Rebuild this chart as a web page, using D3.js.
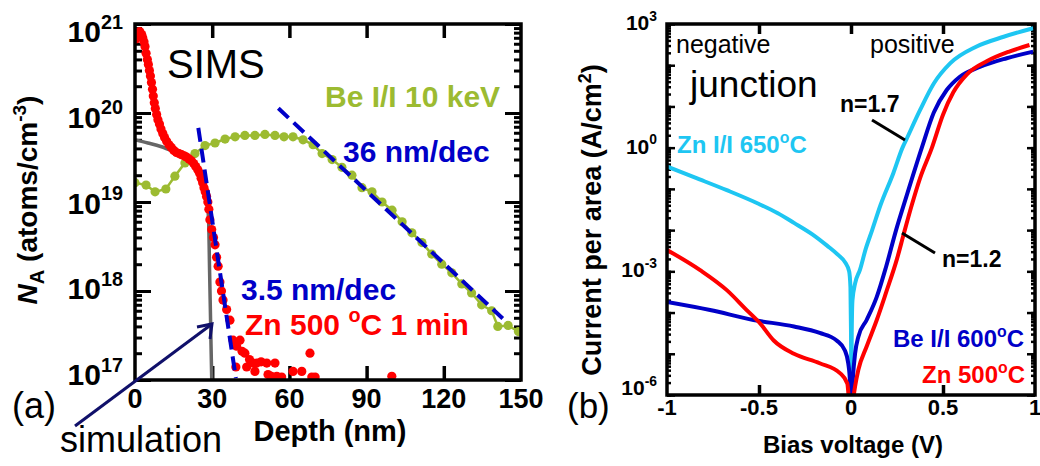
<!DOCTYPE html>
<html>
<head>
<meta charset="utf-8">
<script src="https://cdn.jsdelivr.net/npm/d3@7"></script>
<style>
  body { margin: 0; background: #fff; }
  svg { display: block; font-family: 'Liberation Sans', Arial, sans-serif; }
</style>
</head>
<body>
<div id="chart"></div>
<script>
// ---- panel (a): SIMS depth profiles, [depth nm, atoms/cm3]
const znSims = [[0.3,6.8e20],[1.2,8.1e20],[1.9,8.2e20],[2.6,7.6e20],[3.0,7.0e20],[3.5,6.3e20],[3.9,5.6e20],[4.3,4.7e20],
  [4.8,4.0e20],[5.2,3.5e20],[5.6,3.0e20],[6.0,2.6e20],[6.4,2.2e20],[6.8,1.85e20],[7.1,1.55e20],[7.5,1.3e20],[7.9,1.12e20],
  [8.4,9.6e19],[8.9,8.4e19],[9.5,7.5e19],[10.1,6.6e19],[10.8,5.9e19],[11.5,5.3e19],[12.3,4.8e19],[13.2,4.4e19],[14.1,4.1e19],
  [15.1,3.8e19],[16.1,3.6e19],[17.1,3.5e19],[18.1,3.4e19],[19.1,3.3e19],[20.0,3.2e19],[21.0,3.05e19],[21.9,2.9e19],
  [22.8,2.7e19],[23.6,2.5e19],[24.4,2.3e19],[25.1,2.1e19],[25.7,1.85e19],[26.3,1.65e19],[26.8,1.45e19],[27.3,1.3e19],
  [27.8,1.15e19],[28.3,1.0e19],[28.7,8.3e18],[29.1,6.3e18],[29.8,4.9e18],[30.5,4.0e18],[31.1,3.3e18],[31.7,2.4e18],
  [32.3,1.9e18],[33.0,1.26e18],[33.6,1.0e18],[34.2,7.9e17],[35.6,6.2e17],[36.9,4.7e17],[38.1,2.8e17],[39.2,1.4e17],
  [39.5,2.4e17],[40.8,2.8e17],[41.6,2.1e17],[42.7,2.0e17],[43.4,1.4e17],[44.5,1.7e17],[45.9,1.55e17],[46.6,1.25e17],
  [47.3,1.55e17],[49.0,1.6e17],[51.2,1.55e17],[51.7,1.15e17],[53.0,1.1e17],[54.4,1.55e17],[55.1,1.1e17],[57.0,1.08e17],
  [61.4,1.25e17],[64.8,1.25e17],[68.0,2.0e17],[68.7,1.08e17],[70.0,1.08e17],[99.8,1.1e17]];

const beSims = [[0,1.65e19],[4.3,1.55e19],[7.8,1.3e19],[12.0,1.4e19],[15.5,1.95e19],[19.4,2.75e19],[23.3,3.5e19],
  [27.2,4.3e19],[31.1,4.6e19],[35.0,5.1e19],[38.9,5.4e19],[42.7,5.6e19],[46.6,5.6e19],[50.5,5.75e19],[54.4,5.6e19],
  [57.9,5.4e19],[61.4,5.4e19],[65.3,5.0e19],[69.2,4.4e19],[72.7,3.5e19],[76.6,3.0e19],[80.4,2.45e19],[84.3,2.0e19],
  [88.2,1.45e19],[92.1,1.3e19],[96.0,1.0e19],[99.9,8.1e18],[103.8,6.0e18],[107.6,4.5e18],[111.5,3.5e18],[115.3,2.6e18],
  [119.2,2.0e18],[123.1,1.6e18],[127.0,1.2e18],[130.8,9.5e17],[134.7,7.0e17],[138.6,6.0e17],[141.0,4.0e17],
  [145.0,4.1e17],[149.0,3.5e17]];

const simulation = [[0,5.0e19],[5,4.6e19],[10,4.2e19],[15,3.7e19],[20,3.2e19],[23,2.8e19],[25,2.4e19],[26.5,1.9e19],
  [27.5,1.35e19],[28.1,9.5e18],[28.6,6.3e18],[29.0,1.6e18],[29.4,4.2e17],[29.8,1.07e17],[30.0,8e16]];

const fitSteep = [[24.6,6.8e19],[39.2,1.05e17]];   // 3.5 nm/dec
const fitTail = [[55.7,1.13e20],[142.9,4.9e17]];   // 36 nm/dec

const depthTicks = [0,30,60,90,120,150];
const concExps = [17,18,19,20,21];

// ---- panel (b): I-V, [bias V, A/cm2]
const znIICurve = [[-1,3.5e-1],[-0.85,1.9e-1],[-0.675,9.3e-2],[-0.5,4.3e-2],[-0.4,2.6e-2],[-0.31,1.5e-2],[-0.21,7.9e-3],
  [-0.13,4.2e-3],[-0.07,2.5e-3],[-0.03,1.6e-3],[-0.01,1.0e-3],[-0.003,4.0e-4],[0.0,3.2e-5],[0.002,2.3e-6],[0.004,3.2e-5],
  [0.008,2.0e-4],[0.022,5.0e-4],[0.049,1.1e-3],[0.08,3.5e-3],[0.115,1.0e-2],[0.16,4.0e-2],[0.23,2.4e-1],[0.28,1.0],
  [0.30,1.55],[0.375,8.1],[0.45,36],[0.54,112],[0.68,280],[0.83,490],[0.99,790]];

const beCurve = [[-1,1.8e-4],[-0.766,1.15e-4],[-0.53,6.6e-5],[-0.31,4.6e-5],[-0.17,3.2e-5],[-0.078,2.1e-5],
  [-0.033,1.2e-5],[-0.015,5.9e-6],[-0.005,1.9e-6],[0.0,3e-7],[0.01,2.5e-6],[0.022,1.0e-5],[0.04,2.6e-5],[0.085,6.6e-5],
  [0.14,2.4e-4],[0.19,1.26e-3],[0.245,1.0e-2],[0.30,6.3e-2],[0.385,1.0],[0.45,7.1],[0.52,25],[0.59,52],[0.70,91],
  [0.846,148],[0.99,214]];

const znCurve = [[-1,3.3e-3],[-0.82,1.07e-3],[-0.675,3.5e-4],[-0.567,1.15e-4],[-0.495,5.5e-5],[-0.42,2.1e-5],
  [-0.31,1.0e-5],[-0.17,5.9e-6],[-0.06,3.4e-6],[-0.02,1.9e-6],[-0.008,5e-7],[0.0,3e-7],[0.015,1e-6],[0.022,1.6e-6],
  [0.04,4.1e-6],[0.085,1.5e-5],[0.14,6.6e-5],[0.19,3.0e-4],[0.25,2.0e-3],[0.288,8.5e-3],[0.33,4.0e-2],[0.375,1.8e-1],
  [0.44,1.0],[0.50,6.3],[0.556,22],[0.63,60],[0.74,126],[0.86,214],[0.97,309]];

const biasTicks = [-1,-0.5,0,0.5,1];
const currentExps = [3,0,-3,-6];

const RED = "#ff0000", GREEN = "#9cbb31", BLUE = "#0000c8", CYAN = "#1ec6f2";

const svg = d3.select("#chart").append("svg").attr("width", 1040).attr("height", 466);

// log minor tick values between two decades
function logTicks(lo, hi) {
    const out = [];
    for (let e = lo; e < hi; e++) for (let k = 1; k < 10; k++) out.push(k * Math.pow(10, e));
    out.push(Math.pow(10, hi));
    return out;
}

function powLabel(g, x, y, exp, size, anchor) {
    const t = g.append("text").attr("x", x).attr("y", y)
        .attr("text-anchor", anchor).attr("font-weight", "bold").attr("font-size", size);
    t.append("tspan").text("10");
    t.append("tspan").attr("dy", -size * 0.45).attr("font-size", size * 0.66).text(exp);
}

function degText(g, x, y, before, after, size, color) {
    const t = g.append("text").attr("x", x).attr("y", y)
        .attr("font-weight", "bold").attr("font-size", size).attr("fill", color);
    t.append("tspan").text(before);
    t.append("tspan").attr("dy", -size * 0.42).attr("font-size", size * 0.66).text("o");
    t.append("tspan").attr("dy", size * 0.42).text(after);
    return t;
}

// ================= panel (a) =================
const A = { left: 135, right: 521, top: 24, bottom: 380 };
const xa = d3.scaleLinear().domain([0, 150]).range([A.left, A.right]);
const ya = d3.scaleLog().domain([1e17, 1e21]).range([A.bottom, A.top]);

const ga = svg.append("g");
svg.append("clipPath").attr("id", "clipA").append("rect")
    .attr("x", A.left).attr("y", A.top).attr("width", A.right - A.left).attr("height", A.bottom - A.top);

// ticks, inward on all four sides
const minorA = logTicks(17, 21).filter(v => !concExps.some(e => Math.abs(v - Math.pow(10, e)) < 1));
const majorA = concExps.map(e => Math.pow(10, e));
[[d3.axisLeft, A.left, 7, minorA], [d3.axisLeft, A.left, 16, majorA],
 [d3.axisRight, A.right, 7, minorA], [d3.axisRight, A.right, 16, majorA]].forEach(([ax, xp, len, vals]) => {
    ga.append("g").attr("transform", `translate(${xp},0)`)
        .call(ax(ya).tickValues(vals).tickSize(-len).tickFormat(""))
        .call(g => g.select(".domain").remove())
        .selectAll("line").attr("stroke-width", 3);
});
[[d3.axisBottom, A.bottom], [d3.axisTop, A.top]].forEach(([ax, yp]) => {
    ga.append("g").attr("transform", `translate(0,${yp})`)
        .call(ax(xa).tickValues([30, 60, 90, 120]).tickSize(-14).tickFormat(""))
        .call(g => g.select(".domain").remove())
        .selectAll("line").attr("stroke-width", 3.5);
});

const plotA = ga.append("g").attr("clip-path", "url(#clipA)");
const lineA = d3.line().x(d => xa(d[0])).y(d => ya(d[1]));

plotA.append("path").datum(simulation)
    .attr("d", lineA.curve(d3.curveMonotoneX)).attr("fill", "none").attr("stroke", "#666").attr("stroke-width", 3.5);
lineA.curve(d3.curveLinear);

plotA.append("path").datum(beSims)
    .attr("d", lineA).attr("fill", "none").attr("stroke", GREEN).attr("stroke-width", 2.5);
plotA.selectAll("circle.be").data(beSims).join("circle").attr("class", "be")
    .attr("cx", d => xa(d[0])).attr("cy", d => ya(d[1])).attr("r", 4.6).attr("fill", GREEN);

plotA.selectAll("circle.zn").data(znSims).join("circle").attr("class", "zn")
    .attr("cx", d => xa(d[0])).attr("cy", d => ya(d[1])).attr("r", 4.6).attr("fill", RED);

[fitSteep, fitTail].forEach(f => {
    plotA.append("path").datum(f).attr("d", lineA).attr("fill", "none")
        .attr("stroke", BLUE).attr("stroke-width", 4).attr("stroke-dasharray", "14,7");
});

ga.append("rect").attr("x", A.left).attr("y", A.top)
    .attr("width", A.right - A.left).attr("height", A.bottom - A.top)
    .attr("fill", "none").attr("stroke", "#000").attr("stroke-width", 3.5);

// tick labels
depthTicks.forEach(v => {
    ga.append("text").attr("x", xa(v)).attr("y", 408).attr("text-anchor", "middle")
        .attr("font-weight", "bold").attr("font-size", 27).text(v);
});
concExps.forEach(e => powLabel(ga, 123, ya(Math.pow(10, e)) + 18 - (21 - e) * 3.2, e, 30, "end"));

ga.append("text").attr("x", xa(75) + 2).attr("y", 441).attr("text-anchor", "middle")
    .attr("font-weight", "bold").attr("font-size", 29).text("Depth (nm)");

const yl = ga.append("text").attr("transform", "translate(37,200) rotate(-90)")
    .attr("text-anchor", "middle").attr("font-weight", "bold").attr("font-size", 28);
yl.append("tspan").attr("font-style", "italic").text("N");
yl.append("tspan").attr("dy", 7).attr("font-size", 20).text("A");
yl.append("tspan").attr("dy", -7).text(" (atoms/cm");
yl.append("tspan").attr("dy", -11).attr("font-size", 19).text("-3");
yl.append("tspan").attr("dy", 11).text(")");

ga.append("text").attr("x", 167).attr("y", 78).attr("font-size", 40).text("SIMS");
ga.append("text").attr("x", 325).attr("y", 107).attr("font-weight", "bold").attr("font-size", 30)
    .attr("fill", GREEN).text("Be I/I 10 keV");
ga.append("text").attr("x", 343).attr("y", 162).attr("font-weight", "bold").attr("font-size", 30)
    .attr("fill", BLUE).text("36 nm/dec");
ga.append("text").attr("x", 241).attr("y", 300).attr("font-weight", "bold").attr("font-size", 30)
    .attr("fill", BLUE).text("3.5 nm/dec");
degText(ga, 245, 335, "Zn 500 ", "C 1 min", 30, RED);

ga.append("text").attr("x", 12).attr("y", 418).attr("font-size", 36).text("(a)");
ga.append("text").attr("x", 60).attr("y", 452).attr("font-size", 36).text("simulation");

// arrow to the simulation curve
const ARROW = "#10106a";
ga.append("line").attr("x1", 75).attr("y1", 426).attr("x2", 212).attr("y2", 324)
    .attr("stroke", ARROW).attr("stroke-width", 3);
ga.append("polyline").attr("points", "197,327 212,324 210,339")
    .attr("fill", "none").attr("stroke", ARROW).attr("stroke-width", 3);

// ================= panel (b) =================
const B = { left: 667, right: 1035, top: 24, bottom: 395 };
const xb = d3.scaleLinear().domain([-1, 1]).range([B.left, B.right]);
const yb = d3.scaleLog().domain([1e-6, 1e3]).range([B.bottom, B.top]);

const gb = svg.append("g");
svg.append("clipPath").attr("id", "clipB").append("rect")
    .attr("x", B.left).attr("y", B.top).attr("width", B.right - B.left).attr("height", B.bottom - B.top);

const minorB = logTicks(-6, 3);
const majorB = d3.range(-6, 4).map(e => Math.pow(10, e));
[[d3.axisLeft, B.left, 4, minorB], [d3.axisLeft, B.left, 8, majorB],
 [d3.axisRight, B.right, 4, minorB], [d3.axisRight, B.right, 8, majorB]].forEach(([ax, xp, len, vals]) => {
    gb.append("g").attr("transform", `translate(${xp},0)`)
        .call(ax(yb).tickValues(vals).tickSize(-len).tickFormat(""))
        .call(g => g.select(".domain").remove())
        .selectAll("line").attr("stroke-width", 2.5);
});
[[d3.axisBottom, B.bottom], [d3.axisTop, B.top]].forEach(([ax, yp]) => {
    gb.append("g").attr("transform", `translate(0,${yp})`)
        .call(ax(xb).tickValues([-0.5, 0, 0.5]).tickSize(-10).tickFormat(""))
        .call(g => g.select(".domain").remove())
        .selectAll("line").attr("stroke-width", 3.5);
});

const plotB = gb.append("g").attr("clip-path", "url(#clipB)");
const lineB = d3.line().x(d => xb(d[0])).y(d => yb(d[1])).curve(d3.curveMonotoneX);
[[znIICurve, CYAN], [beCurve, BLUE], [znCurve, RED]].forEach(([data, color]) => {
    plotB.append("path").datum(data).attr("d", lineB).attr("fill", "none")
        .attr("stroke", color).attr("stroke-width", 4);
});

gb.append("rect").attr("x", B.left).attr("y", B.top)
    .attr("width", B.right - B.left).attr("height", B.bottom - B.top)
    .attr("fill", "none").attr("stroke", "#000").attr("stroke-width", 3.5);

biasTicks.forEach(v => {
    gb.append("text").attr("x", xb(v)).attr("y", 415).attr("text-anchor", "middle")
        .attr("font-weight", "bold").attr("font-size", 22).text(v);
});
currentExps.forEach(e => powLabel(gb, 657, yb(Math.pow(10, e)) + (e === -6 ? 0 : 6), e, 21, "end"));

gb.append("text").attr("x", 853).attr("y", 453).attr("text-anchor", "middle")
    .attr("font-weight", "bold").attr("font-size", 24).text("Bias voltage (V)");

const yr = gb.append("text").attr("transform", "translate(601,220) rotate(-90)")
    .attr("text-anchor", "middle").attr("font-weight", "bold").attr("font-size", 27);
yr.append("tspan").text("Current per area (A/cm");
yr.append("tspan").attr("dy", -10).attr("font-size", 18).text("2");
yr.append("tspan").attr("dy", 10).text(")");

gb.append("text").attr("x", 676).attr("y", 53).attr("font-size", 25).text("negative");
gb.append("text").attr("x", 870).attr("y", 53).attr("font-size", 25).text("positive");
gb.append("text").attr("x", 690).attr("y", 97).attr("font-size", 37).text("junction");

gb.append("text").attr("x", 840).attr("y", 112).attr("font-weight", "bold").attr("font-size", 23).text("n=1.7");
gb.append("line").attr("x1", 872).attr("y1", 120).attr("x2", 905).attr("y2", 140)
    .attr("stroke", "#000").attr("stroke-width", 3);
gb.append("text").attr("x", 942).attr("y", 267).attr("font-weight", "bold").attr("font-size", 23).text("n=1.2");
gb.append("line").attr("x1", 902).attr("y1", 233).attr("x2", 935).attr("y2", 253)
    .attr("stroke", "#000").attr("stroke-width", 3);

degText(gb, 677, 153, "Zn I/I 650", "C", 24, CYAN);
degText(gb, 893, 347, "Be I/I 600", "C", 24, BLUE);
degText(gb, 922, 383, "Zn 500", "C", 24, RED);

gb.append("text").attr("x", 567).attr("y", 418).attr("font-size", 35).text("(b)");
</script>
</body>
</html>
